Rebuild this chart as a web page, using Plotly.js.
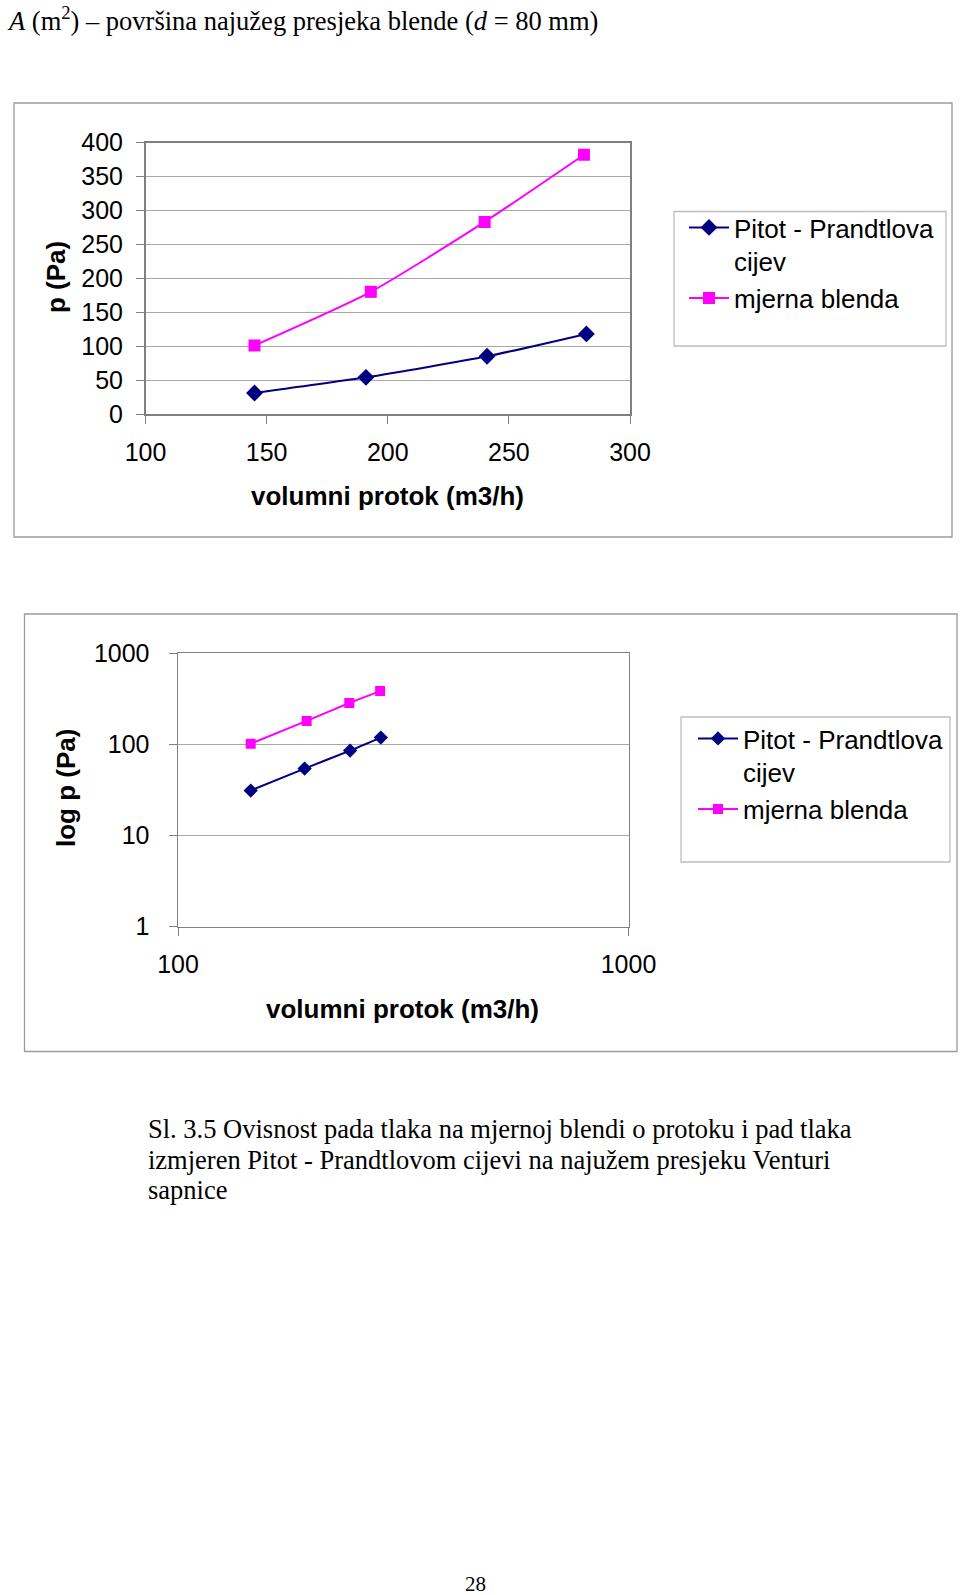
<!DOCTYPE html>
<html>
<head>
<meta charset="utf-8">
<script src="https://cdn.plot.ly/plotly-3.0.1.min.js"></script>
<style>html,body{margin:0;padding:0;background:#fff;}#chart{width:960px;height:1595px;}</style>
</head>
<body>
<div id="chart"></div>
<script>
// ---- data ----
const seriesNames = ["Pitot - Prandtlova<br>cijev", "mjerna blenda"];
const flowPitot = [145, 191, 241, 282];     // volumni protok (m3/h)
const pPitot = [31, 54, 85, 118];           // p (Pa)
const flowBlenda = [145, 193, 240, 281];    // volumni protok (m3/h)
const pBlenda = [101, 180, 283, 382];       // p (Pa)
const linTicksX = [100, 150, 200, 250, 300];
const linTicksY = [0, 50, 100, 150, 200, 250, 300, 350, 400];
const logTicksX = [100, 1000];
const logTicksY = [1, 10, 100, 1000];
const xTitle = "volumni protok (m3/h)";
const yTitle1 = "p (Pa)";
const yTitle2 = "log p (Pa)";
const headText = "<i>A</i> (m<sup>2</sup>) – površina najužeg presjeka blende (<i>d</i> = 80 mm)";
const captionLines = [
  "Sl. 3.5 Ovisnost pada tlaka na mjernoj blendi o protoku i pad tlaka",
  "izmjeren Pitot - Prandtlovom cijevi na najužem presjeku Venturi",
  "sapnice"
];
const pageNo = "28";

// ---- layout helpers ----
const W = 960, H = 1595;
const px = x => x / W;
const py = y => 1 - y / H;
const NAVY = "#000080", PINK = "#FF00FF";
const SANS = "Liberation Sans, Arial, sans-serif";
const SERIF = "Liberation Serif, Times New Roman, serif";

const traces = [
  {x: flowPitot, y: pPitot, name: seriesNames[0], type: "scatter", mode: "lines+markers",
   xaxis: "x", yaxis: "y", legend: "legend",
   line: {color: NAVY, width: 2, shape: "spline", smoothing: 0.6},
   marker: {symbol: "diamond", size: 13, color: NAVY}},
  {x: flowBlenda, y: pBlenda, name: seriesNames[1], type: "scatter", mode: "lines+markers",
   xaxis: "x", yaxis: "y", legend: "legend",
   line: {color: PINK, width: 2, shape: "spline", smoothing: 0.6},
   marker: {symbol: "square", size: 12, color: PINK}},
  {x: flowPitot, y: pPitot, name: seriesNames[0], type: "scatter", mode: "lines+markers",
   xaxis: "x2", yaxis: "y2", legend: "legend2",
   line: {color: NAVY, width: 2, shape: "spline", smoothing: 0.6},
   marker: {symbol: "diamond", size: 11, color: NAVY}},
  {x: flowBlenda, y: pBlenda, name: seriesNames[1], type: "scatter", mode: "lines+markers",
   xaxis: "x2", yaxis: "y2", legend: "legend2",
   line: {color: PINK, width: 2, shape: "spline", smoothing: 0.6},
   marker: {symbol: "square", size: 10, color: PINK}}
];

const axisCommon = {
  showline: true, mirror: true, linecolor: "#808080", linewidth: 1.5,
  ticks: "outside", ticklen: 8, tickcolor: "#808080", tickwidth: 1,
  zeroline: false, tickfont: {family: SANS, size: 25, color: "#000"},
  fixedrange: true
};

const legendCommon = {
  xanchor: "left", yanchor: "top", bgcolor: "rgba(0,0,0,0)", borderwidth: 0,
  font: {family: SANS, size: 26, color: "#000"}, valign: "top", itemwidth: 40,
  tracegroupgap: 0, traceorder: "normal"
};

const ann = (text, x, y, opts) => Object.assign({
  text: text, x: px(x), y: py(y), xref: "paper", yref: "paper",
  showarrow: false, xanchor: "left", yanchor: "middle",
  font: {family: SERIF, size: 26.5, color: "#000"}
}, opts || {});

const layout = {
  width: W, height: H, margin: {l: 0, r: 0, t: 0, b: 0},
  paper_bgcolor: "#fff", plot_bgcolor: "#fff", showlegend: true,
  xaxis: Object.assign({}, axisCommon, {domain: [px(145.5), px(630)], range: [100, 300],
    tickvals: linTicksX, showgrid: false, anchor: "y", ticklabelstandoff: 7}),
  yaxis: Object.assign({}, axisCommon, {domain: [py(414), py(142.5)], range: [0, 400],
    tickvals: linTicksY, showgrid: true, gridcolor: "#a8a8a8", gridwidth: 1, anchor: "x", ticklabelstandoff: 8}),
  xaxis2: Object.assign({}, axisCommon, {domain: [px(178), px(628.5)], type: "log", range: [2, 3],
    tickvals: logTicksX, ticktext: logTicksX.map(String), showgrid: false, anchor: "y2", ticklabelstandoff: 7}),
  yaxis2: Object.assign({}, axisCommon, {domain: [py(926.5), py(653)], type: "log", range: [0, 3],
    tickvals: logTicksY, ticktext: logTicksY.map(String), showgrid: true, gridcolor: "#a8a8a8", gridwidth: 1,
    anchor: "x2", ticklabelstandoff: 14}),
  legend: Object.assign({}, legendCommon, {x: px(684), y: py(204)}),
  legend2: Object.assign({}, legendCommon, {x: px(693), y: py(715)}),
  shapes: [
    {type: "rect", xref: "paper", yref: "paper", x0: px(14), x1: px(952), y0: py(537), y1: py(103),
     line: {color: "#9a9a9a", width: 1.3}, layer: "below"},
    {type: "rect", xref: "paper", yref: "paper", x0: px(674), x1: px(946), y0: py(346), y1: py(211.5),
     line: {color: "#bdbdbd", width: 1.3}, layer: "below"},
    {type: "rect", xref: "paper", yref: "paper", x0: px(24.5), x1: px(957), y0: py(1051.5), y1: py(614),
     line: {color: "#9a9a9a", width: 1.3}, layer: "below"},
    {type: "rect", xref: "paper", yref: "paper", x0: px(681), x1: px(950), y0: py(862), y1: py(717),
     line: {color: "#bdbdbd", width: 1.3}, layer: "below"}
  ],
  annotations: [
    ann(headText, 5, 19),
    ann(xTitle, 387.5, 496, {xanchor: "center", font: {family: SANS, size: 26, color: "#000", weight: "bold"}}),
    ann(yTitle1, 56, 277, {xanchor: "center", textangle: -90, font: {family: SANS, size: 26, color: "#000", weight: "bold"}}),
    ann(xTitle, 402.5, 1009, {xanchor: "center", font: {family: SANS, size: 26, color: "#000", weight: "bold"}}),
    ann(yTitle2, 66, 788, {xanchor: "center", textangle: -90, font: {family: SANS, size: 26, color: "#000", weight: "bold"}}),
    ann(captionLines[0], 146, 1129),
    ann(captionLines[1], 146, 1159.5),
    ann(captionLines[2], 146, 1190),
    ann(pageNo, 475, 1584, {xanchor: "center", font: {family: SERIF, size: 21, color: "#000"}})
  ]
};

Plotly.newPlot("chart", traces, layout, {staticPlot: true, displayModeBar: false});
</script>
</body>
</html>
